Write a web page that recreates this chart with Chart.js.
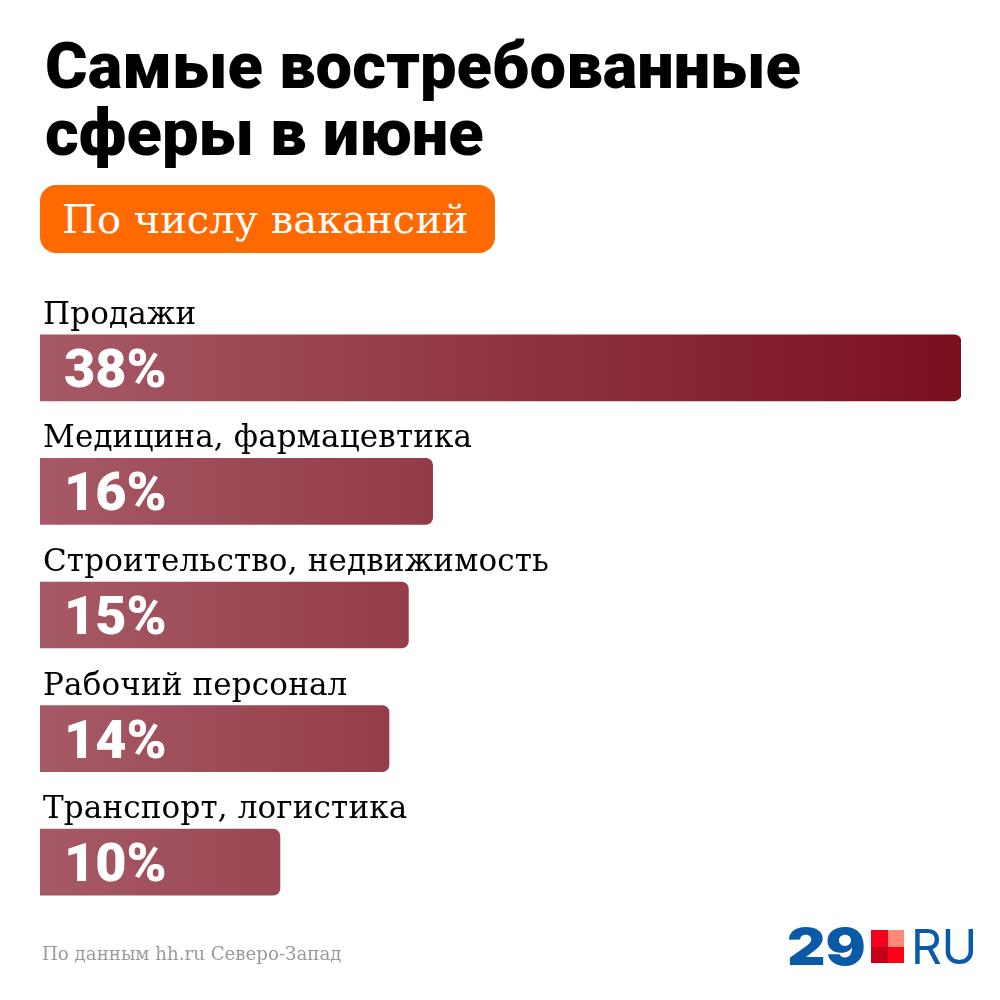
<!DOCTYPE html>
<html lang="ru"><head><meta charset="utf-8">
<script src="https://cdn.jsdelivr.net/npm/chart.js@4/dist/chart.umd.min.js"></script>
<style>
html,body{margin:0;padding:0;background:#fff;width:1000px;height:1000px;overflow:hidden}
#wrap{position:relative;width:1000px;height:1000px}
canvas{position:absolute;left:0;top:0}
.t{position:absolute;white-space:nowrap}
#title{left:45px;top:33px;font:900 65px/67px Roboto,sans-serif;color:#000}
#badge{left:40px;top:185px;width:455px;height:68px;background:#ff6a00;border-radius:16px}
#badgeText{left:62px;top:194px;font:400 40px/50px "DejaVu Serif",serif;color:#fff}
#src{left:42px;top:943px;font:400 18.2px/22px "DejaVu Serif",serif;color:#9a9a9a}
#n29{left:787px;top:917px;font:900 51px/60px Inter,Roboto,sans-serif;color:#0b5aa8;transform-origin:0 0;transform:scaleX(1.17)}
#ru{left:911px;top:917px;font:400 48px/60px Inter,Roboto,sans-serif;color:#0b5aa8;letter-spacing:-.5px}
.s{position:absolute;width:16.5px;height:16.5px}
</style></head><body>
<div id="wrap">
<canvas id="c" width="1000" height="1000"></canvas>
<div class="t" id="title">Самые востребованные<br>сферы в июне</div>
<div class="t" id="badge"></div>
<div class="t" id="badgeText">По числу вакансий</div>
<div class="t" id="src">По данным hh.ru Северо-Запад</div>
<div class="t" id="n29">29</div>
<div class="s" style="left:871px;top:930px;background:#f5001e"></div>
<div class="s" style="left:887.5px;top:930px;background:#ff8a75"></div>
<div class="s" style="left:871px;top:946.5px;background:#c40018"></div>
<div class="s" style="left:887.5px;top:946.5px;background:#ff0018"></div>
<div class="t" id="ru">RU</div>
</div>
<script>
const categories = ["Продажи","Медицина, фармацевтика","Строительство, недвижимость","Рабочий персонал","Транспорт, логистика"];
const values = [38,16.2,15.2,14.4,9.9];
const valueLabels = ["38%","16%","15%","14%","10%"];

const barText = {
  id:"barText",
  afterDatasetsDraw(chart){
    const ctx = chart.ctx, bars = chart.getDatasetMeta(0).data;
    ctx.save();
    bars.forEach((b,i)=>{
      ctx.textAlign="left"; ctx.textBaseline="alphabetic";
      ctx.fillStyle="#000"; ctx.font='400 31px "DejaVu Serif", serif';
      ctx.letterSpacing="0.15px";
      ctx.fillText(categories[i], 43, b.y-44);
      ctx.fillStyle="#fff"; ctx.font='900 54px Roboto, sans-serif';
      ctx.letterSpacing="0px";
      ctx.fillText(valueLabels[i], 64, b.y+19);
    });
    ctx.restore();
  }
};
new Chart(document.getElementById("c"),{
  type:"bar",
  data:{labels:categories,datasets:[{
    data:values,
    barThickness:66,
    borderRadius:{topRight:7,bottomRight:7,topLeft:0,bottomLeft:0},
    borderSkipped:false,
    backgroundColor(ctx){
      const a=ctx.chart.chartArea; if(!a) return "#a5565f";
      const g=ctx.chart.ctx.createLinearGradient(a.left,0,a.right,0);
      g.addColorStop(0,"#a65a66"); g.addColorStop(1,"#7a0f1e");
      return g;
    }
  }]},
  options:{
    indexAxis:"y",responsive:false,animation:false,devicePixelRatio:1,
    layout:{padding:{left:40,right:39,top:306,bottom:76}},
    plugins:{legend:{display:false},tooltip:{enabled:false},title:{display:false}},
    scales:{x:{display:false,min:0,max:38},y:{display:false}}
  },
  plugins:[barText]
});
</script>
</body></html>
